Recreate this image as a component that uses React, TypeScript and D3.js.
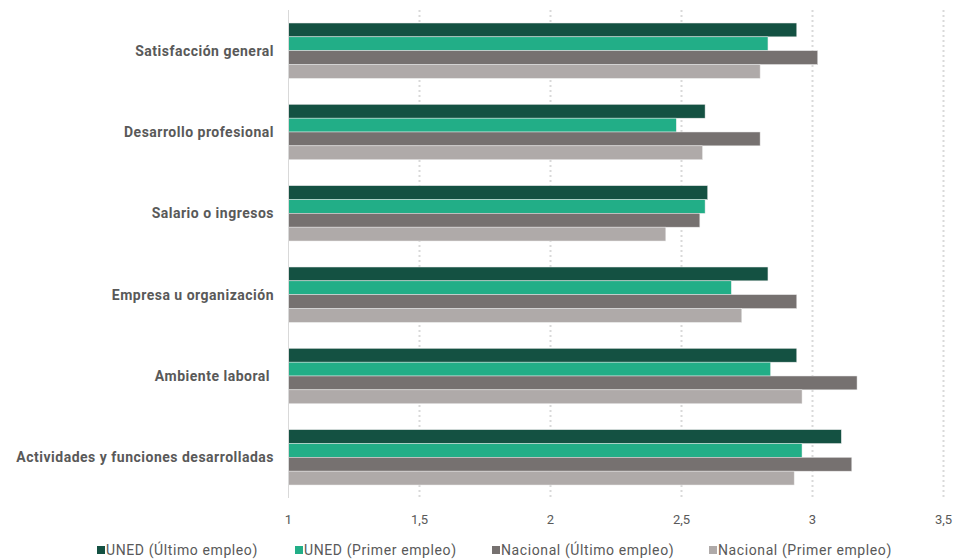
import React from "react";
import * as d3 from "d3";

const categories = [
  "Satisfacción general",
  "Desarrollo profesional",
  "Salario o ingresos",
  "Empresa u organización",
  "Ambiente laboral\u00a0",
  "Actividades y funciones desarrolladas",
];
const seriesNames = [
  "UNED (Último empleo)",
  "UNED (Primer empleo)",
  "Nacional (Último empleo)",
  "Nacional (Primer empleo)",
];
const unedUltimo = [2.94, 2.59, 2.6, 2.83, 2.94, 3.11];
const unedPrimer = [2.83, 2.48, 2.59, 2.69, 2.84, 2.96];
const nacionalUltimo = [3.02, 2.8, 2.57, 2.94, 3.17, 3.15];
const nacionalPrimer = [2.8, 2.58, 2.44, 2.73, 2.96, 2.93];
const ticks = [1, 1.5, 2, 2.5, 3, 3.5];
const colors = ["#145142", "#22AE87", "#767170", "#AFAAA9"];

const seriesValues = [unedUltimo, unedPrimer, nacionalUltimo, nacionalPrimer];

export default function App() {
  const W = 960;
  const H = 559;
  const x = d3.scaleLinear().domain([1, 3.5]).range([288.5, 943.5]);
  const y = d3.scaleBand<string>().domain(categories).range([10, 498]).paddingInner(0.32).paddingOuter(0.16);
  const inner = d3.scaleBand<number>().domain([0, 1, 2, 3]).range([0, y.bandwidth()]);
  const font = "Roboto, 'Noto Sans', sans-serif";
  const legendX = [97, 295, 492, 709];
  const fmt = (v: number) => String(v).replace(".", ",");

  return (
    <svg width={W} height={H} style={{ position: "absolute", left: 0, top: 0, background: "#fff" }} fontFamily={font}>
      {ticks.slice(1).map((t) => (
        <line key={t} x1={x(t)} x2={x(t)} y1={10} y2={498} stroke="#D9D9D9" strokeWidth={2} strokeDasharray="2,3" />
      ))}
      {categories.map((c, ci) => (
        <g key={c}>
          {seriesValues.map((vals, si) => (
            <rect
              key={si}
              x={x(1)}
              y={(y(c) as number) + (inner(si) as number)}
              width={x(vals[ci]) - x(1)}
              height={inner.bandwidth()}
              fill={colors[si]}
              stroke="#e8e8e8"
              strokeWidth={0.5}
            />
          ))}
          <text
            x={274}
            y={(y(c) as number) + y.bandwidth() / 2}
            textAnchor="end"
            dominantBaseline="central"
            fontSize={14}
            letterSpacing={0.5}
            fontWeight="bold"
            fill="#595959"
            style={{ whiteSpace: "pre" }}
          >
            {c}
          </text>
        </g>
      ))}
      <line x1={x(1)} x2={x(1)} y1={10} y2={498} stroke="#D9D9D9" strokeWidth={1} />
      {ticks.map((t) => (
        <text key={t} x={x(t)} y={519} textAnchor="middle" dominantBaseline="central" fontSize={13} fill="#595959">
          {fmt(t)}
        </text>
      ))}
      {seriesNames.map((s, i) => (
        <g key={s}>
          <rect x={legendX[i]} y={546} width={8} height={8} fill={colors[i]} />
          <text x={legendX[i] + 9} y={550} dominantBaseline="central" fontSize={14} letterSpacing={0.6} fill="#595959">
            {s}
          </text>
        </g>
      ))}
    </svg>
  );
}
